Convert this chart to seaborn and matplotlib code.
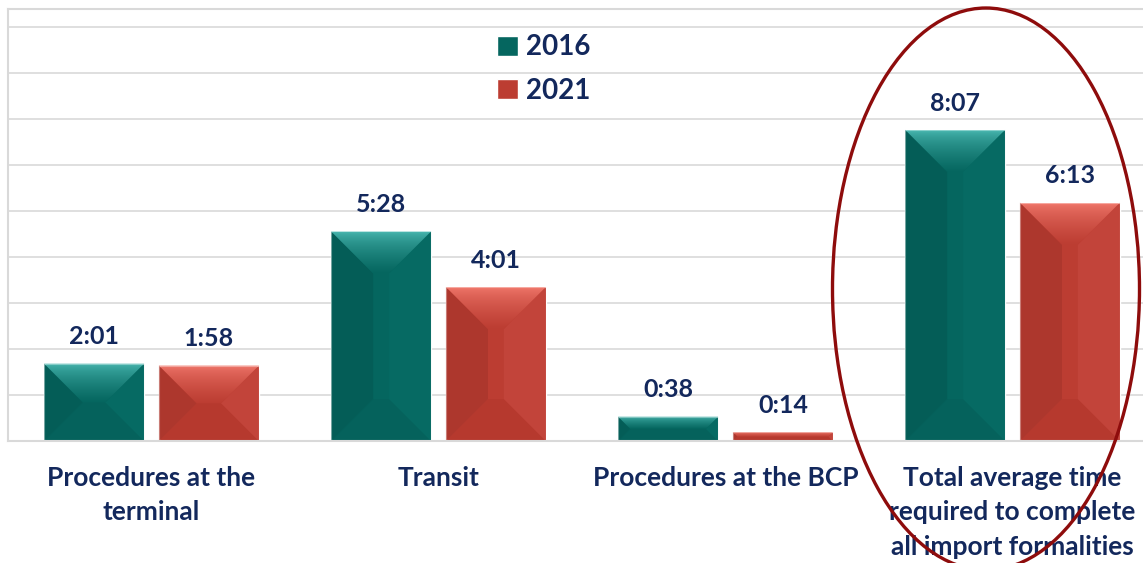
import numpy as np
import pandas as pd
import matplotlib
matplotlib.use("Agg")
import matplotlib.pyplot as plt
import matplotlib.colors as mcolors
import seaborn as sns
from matplotlib.patches import Polygon, Ellipse

# ---- data (minutes) ----
categories = ["Procedures at the terminal", "Transit", "Procedures at the BCP",
              "Total average time required to complete all import formalities"]
tick_labels = ["Procedures at the\nterminal", "Transit", "Procedures at the BCP",
               "Total average time\nrequired to complete\nall import formalities"]
years = ["2016", "2021"]
minutes_2016 = [121, 328, 38, 487]
minutes_2021 = [118, 241, 14, 373]

df = pd.DataFrame({
    "category": categories * 2,
    "year": [years[0]] * 4 + [years[1]] * 4,
    "minutes": minutes_2016 + minutes_2021,
})

NAVY = "#13285c"
TEAL = "#05665f"
RED = "#bc3d32"
GRID = "#d9d9d9"

sns.set_theme(style="white")
plt.rcParams["font.family"] = ["Lato", "DejaVu Sans"]

W, H = 1143, 563
fig = plt.figure(figsize=(W / 100, H / 100), dpi=100)
ax = fig.add_axes([8 / W, 122 / H, 1148 / W, 432 / H])

sns.barplot(data=df, x="category", y="minutes", hue="year", order=categories,
            hue_order=years, palette=[TEAL, RED], width=0.8, gap=0.13,
            saturation=1, ax=ax, legend=True)

ymax = 72 * 432 / 46
ax.set_xlim(-0.5, 3.5)
ax.set_ylim(0, ymax)
ax.set_yticks(np.arange(0, ymax, 72))
ax.yaxis.grid(True, color=GRID, linewidth=1.2)
ax.set_axisbelow(True)
ax.tick_params(axis="y", length=0, labelleft=False)
ax.set_xlabel("")
ax.set_ylabel("")

ax.set_xticks(range(4))
ax.set_xticklabels(tick_labels, fontsize=19, fontweight="bold", color=NAVY,
                   linespacing=1.52, va="top")
ax.tick_params(axis="x", which="major", length=0, pad=18)
ax.set_xticks([0.5, 1.5, 2.5], minor=True)
ax.tick_params(axis="x", which="minor", length=7, width=1.2, color=GRID,
               direction="out")

for side in ["left", "top", "bottom"]:
    ax.spines[side].set_color(GRID)
    ax.spines[side].set_linewidth(1.5)
ax.spines["right"].set_visible(False)

# ---- subtle bevel decoration derived from each bar's geometry ----
px_x = 1148 / 4.0
px_y = 432 / ymax
shades = {
    TEAL: dict(hi="#4cbcb5", left="#045d57", right="#066a63", bottom="#05625c"),
    RED: dict(hi="#f47b6f", left="#ad372d", right="#c2443a", bottom="#b6392e"),
}
for cont, col in zip(ax.containers, [TEAL, RED]):
    for bar in cont:
        x0, y0 = bar.get_x(), bar.get_y()
        w, h = bar.get_width(), bar.get_height()
        wp, hp = w * px_x, h * px_y
        d = min(42.0, wp / 2, hp / 2)
        dx, dy = d / px_x, d / px_y
        x1, y1 = x0 + w, y0 + h
        s = shades[col]
        z = bar.get_zorder() + 0.1
        side_faces = [
            ([(x0, y0), (x1, y0), (x1 - dx, y0 + dy), (x0 + dx, y0 + dy)], s["bottom"]),
            ([(x0, y0), (x0, y1), (x0 + dx, y1 - dy), (x0 + dx, y0 + dy)], s["left"]),
            ([(x1, y0), (x1, y1), (x1 - dx, y1 - dy), (x1 - dx, y0 + dy)], s["right"]),
        ]
        for pts, fc in side_faces:
            ax.add_patch(Polygon(pts, closed=True, facecolor=fc, edgecolor="none",
                                 zorder=z))
        top = Polygon([(x0, y1), (x1, y1), (x1 - dx, y1 - dy), (x0 + dx, y1 - dy)],
                      closed=True, facecolor="none", edgecolor="none", zorder=z)
        ax.add_patch(top)
        c_hi = np.array(mcolors.to_rgb(s["hi"]))
        c_lo = np.array(mcolors.to_rgb(col))
        t = np.linspace(0, 1, 64) ** 0.6
        grad = (c_lo[None, :] * t[:, None] + c_hi[None, :] * (1 - t[:, None]))
        im = ax.imshow(grad[:, None, :], extent=(x0, x1, y1 - dy, y1),
                       origin="upper", aspect="auto", zorder=z + 0.05,
                       interpolation="bilinear")
        im.set_clip_path(top)
        ax.add_patch(Polygon([(x0, y0), (x0, y1), (x1, y1), (x1, y0)], closed=True,
                             facecolor="none", edgecolor="#ffffff", alpha=0.35,
                             linewidth=0.8, zorder=z + 0.1))

ax.set_xlim(-0.5, 3.5)
ax.set_ylim(0, ymax)

# ---- data labels ----
for cont in ax.containers:
    labels = [f"{int(v) // 60}:{int(v) % 60:02d}" for v in cont.datavalues]
    ax.bar_label(cont, labels=labels, padding=11, fontsize=18, fontweight="bold",
                 color=NAVY)

# ---- legend ----
handles, labs = ax.get_legend_handles_labels()
ax.legend(handles, labs, loc="upper left", bbox_to_anchor=(0.4165, 0.967),
          frameon=False, handlelength=0.75, handleheight=0.75, handletextpad=0.3,
          labelspacing=0.62, prop=dict(family="Lato", weight="bold", size=20),
          labelcolor=NAVY, borderaxespad=0)

# ---- highlight ellipse ----
ell = Ellipse((986 / W, 1 - 289 / H), 307 / W, 562 / H, transform=fig.transFigure,
              facecolor="none", edgecolor="#8e0c0c", linewidth=2.4, clip_on=False,
              zorder=10)
fig.patches.append(ell)

fig.savefig("out.png", dpi=100)
